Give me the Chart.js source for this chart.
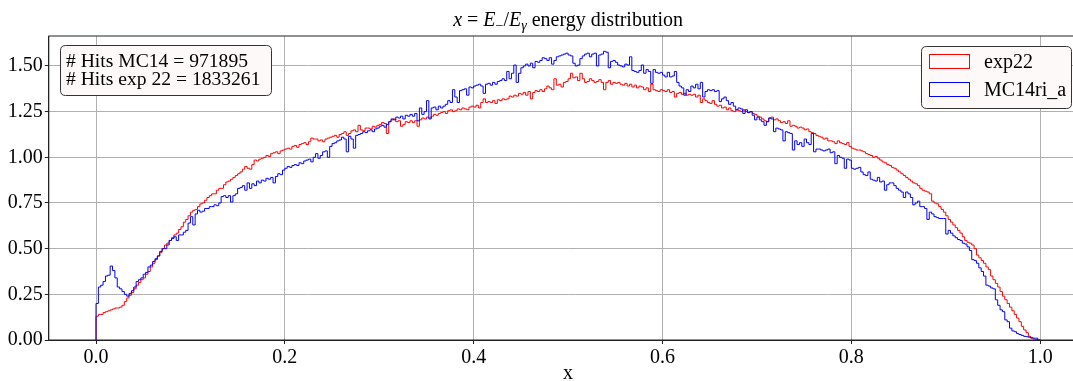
<!DOCTYPE html>
<html>
<head>
<meta charset="utf-8">
<script src="https://cdn.jsdelivr.net/npm/chart.js@4"></script>
<style>
  html, body { margin: 0; padding: 0; background: #fff; overflow: hidden; }
  #wrap { width: 1073px; height: 381px; overflow: hidden; }
</style>
</head>
<body>
<div id="wrap"><canvas id="c" width="1100" height="381"></canvas></div>
<script>
"use strict";

// histogram range, 400 bins of equal width
const binLow = 0.0;
const binHigh = 1.0;

const xTicks = [0.0, 0.2, 0.4, 0.6, 0.8, 1.0];
const yTicks = [0.0, 0.25, 0.5, 0.75, 1.0, 1.25, 1.5];

const seriesNames = ["exp22", "MC14ri_a"];
const statLines = ["# Hits MC14 = 971895", "# Hits exp 22 = 1833261"];

// exp22 (red), normalised counts per bin
const exp22 = [
  0.04,0.13,0.14,0.14,0.15,0.155,0.16,0.165,0.17,0.175,0.175,0.18,0.19,0.21,0.23,0.245,0.26,0.28,0.30,0.315,
  0.33,0.34,0.36,0.375,0.40,0.42,0.44,0.46,0.48,0.50,0.52,0.53,0.545,0.56,0.575,0.585,0.605,0.62,0.645,0.66,
  0.68,0.70,0.71,0.715,0.73,0.745,0.75,0.765,0.78,0.79,0.80,0.80,0.82,0.83,0.83,0.85,0.865,0.87,0.88,0.89,
  0.90,0.91,0.92,0.935,0.95,0.94,0.935,0.96,0.985,0.98,0.99,0.995,1.00,1.01,1.005,1.02,1.025,1.03,1.02,1.035,
  1.04,1.045,1.05,1.045,1.06,1.065,1.055,1.07,1.075,1.08,1.07,1.085,1.105,1.10,1.10,1.09,1.095,1.085,1.10,1.105,
  1.11,1.115,1.12,1.11,1.125,1.13,1.14,1.12,1.13,1.145,1.15,1.14,1.175,1.15,1.145,1.16,1.16,1.155,1.17,1.165,
  1.175,1.18,1.19,1.185,1.13,1.195,1.205,1.21,1.195,1.20,1.17,1.18,1.195,1.19,1.20,1.19,1.20,1.17,1.205,1.215,
  1.21,1.22,1.215,1.225,1.235,1.23,1.24,1.245,1.25,1.24,1.255,1.26,1.25,1.255,1.265,1.26,1.27,1.265,1.26,1.275,
  1.28,1.275,1.285,1.27,1.30,1.32,1.30,1.305,1.30,1.31,1.295,1.315,1.31,1.32,1.315,1.32,1.335,1.33,1.34,1.335,
  1.35,1.345,1.355,1.34,1.36,1.32,1.355,1.365,1.36,1.37,1.36,1.375,1.39,1.38,1.37,1.43,1.395,1.40,1.385,1.41,
  1.415,1.43,1.46,1.435,1.44,1.42,1.46,1.43,1.41,1.415,1.43,1.42,1.41,1.415,1.425,1.41,1.37,1.41,1.42,1.40,
  1.41,1.405,1.41,1.40,1.395,1.405,1.39,1.40,1.385,1.395,1.38,1.39,1.385,1.37,1.38,1.36,1.40,1.37,1.365,1.36,
  1.37,1.365,1.36,1.37,1.355,1.36,1.33,1.35,1.355,1.345,1.35,1.34,1.345,1.34,1.345,1.33,1.34,1.30,1.32,1.31,
  1.30,1.295,1.31,1.29,1.28,1.285,1.27,1.275,1.26,1.27,1.255,1.25,1.26,1.255,1.25,1.26,1.25,1.245,1.25,1.24,
  1.235,1.225,1.22,1.21,1.20,1.195,1.215,1.22,1.205,1.21,1.20,1.19,1.195,1.185,1.20,1.17,1.175,1.17,1.16,1.165,
  1.16,1.15,1.155,1.14,1.135,1.13,1.12,1.115,1.11,1.10,1.105,1.09,1.09,1.085,1.075,1.09,1.08,1.075,1.07,1.08,
  1.06,1.05,1.045,1.04,1.04,1.035,1.03,1.02,1.015,1.01,1.00,1.005,0.995,0.985,0.975,0.97,0.96,0.955,0.945,0.94,
  0.93,0.92,0.91,0.90,0.89,0.88,0.87,0.86,0.855,0.845,0.83,0.82,0.815,0.81,0.80,0.76,0.75,0.745,0.73,0.715,
  0.70,0.68,0.66,0.645,0.63,0.615,0.60,0.585,0.565,0.545,0.535,0.53,0.52,0.50,0.465,0.45,0.435,0.42,0.40,0.385,
  0.35,0.33,0.31,0.29,0.265,0.24,0.22,0.20,0.18,0.16,0.14,0.12,0.10,0.075,0.055,0.04,0.02,0.01,0.005,0.002
];

// MC14ri_a (blue)
const mc14 = [
  0.03,0.20,0.29,0.30,0.32,0.35,0.355,0.405,0.38,0.34,0.29,0.28,0.265,0.25,0.24,0.255,0.27,0.29,0.32,0.33,
  0.34,0.36,0.37,0.40,0.41,0.43,0.445,0.46,0.485,0.50,0.50,0.52,0.545,0.555,0.565,0.545,0.575,0.575,0.59,0.60,
  0.64,0.675,0.63,0.69,0.71,0.70,0.705,0.72,0.72,0.73,0.73,0.74,0.735,0.75,0.785,0.79,0.78,0.79,0.755,0.79,
  0.80,0.83,0.835,0.845,0.82,0.86,0.83,0.855,0.845,0.87,0.86,0.875,0.87,0.885,0.88,0.89,0.86,0.895,0.91,0.905,
  0.93,0.94,0.95,0.945,0.955,0.96,0.955,0.97,0.965,0.98,0.985,0.99,0.975,1.00,1.02,0.995,1.01,1.03,1.035,1.00,
  1.06,1.075,1.08,1.09,1.095,1.11,1.10,1.03,1.115,1.10,1.05,1.12,1.125,1.13,1.14,1.135,1.145,1.15,1.14,1.155,
  1.16,1.17,1.175,1.165,1.18,1.195,1.21,1.205,1.22,1.215,1.225,1.21,1.23,1.225,1.235,1.225,1.24,1.20,1.27,1.235,
  1.25,1.31,1.21,1.27,1.275,1.26,1.28,1.27,1.28,1.29,1.31,1.30,1.37,1.33,1.30,1.365,1.37,1.375,1.34,1.385,
  1.38,1.39,1.395,1.40,1.39,1.35,1.40,1.405,1.395,1.41,1.40,1.415,1.42,1.43,1.42,1.47,1.43,1.46,1.505,1.41,
  1.46,1.49,1.50,1.51,1.50,1.515,1.49,1.525,1.52,1.53,1.545,1.54,1.53,1.545,1.51,1.53,1.55,1.555,1.56,1.565,
  1.57,1.56,1.555,1.515,1.50,1.505,1.54,1.555,1.565,1.57,1.55,1.565,1.57,1.50,1.56,1.565,1.58,1.575,1.49,1.525,
  1.53,1.52,1.505,1.50,1.495,1.51,1.505,1.55,1.475,1.47,1.465,1.475,1.505,1.46,1.48,1.47,1.405,1.48,1.465,1.46,
  1.465,1.45,1.44,1.465,1.44,1.445,1.47,1.41,1.39,1.38,1.34,1.37,1.36,1.39,1.38,1.40,1.375,1.41,1.33,1.36,
  1.37,1.365,1.37,1.36,1.365,1.305,1.32,1.33,1.31,1.29,1.30,1.28,1.26,1.27,1.265,1.24,1.26,1.245,1.25,1.23,
  1.205,1.22,1.205,1.195,1.175,1.195,1.215,1.21,1.14,1.16,1.155,1.15,1.09,1.14,1.135,1.13,1.04,1.09,1.07,1.08,
  1.06,1.10,1.08,1.07,1.13,1.03,1.045,1.045,1.04,1.035,1.04,1.045,1.025,1.03,0.965,1.01,1.00,0.995,0.94,0.99,
  0.985,0.94,0.935,0.94,0.945,0.92,0.905,0.90,0.92,0.88,0.875,0.87,0.89,0.865,0.87,0.82,0.85,0.86,0.86,0.845,
  0.83,0.82,0.81,0.78,0.81,0.80,0.78,0.74,0.75,0.76,0.73,0.73,0.72,0.66,0.70,0.69,0.675,0.67,0.665,0.665,
  0.665,0.58,0.60,0.585,0.57,0.56,0.55,0.545,0.53,0.525,0.51,0.49,0.44,0.435,0.42,0.395,0.375,0.35,0.30,0.295,
  0.285,0.28,0.22,0.19,0.165,0.155,0.11,0.10,0.065,0.05,0.045,0.035,0.03,0.025,0.02,0.018,0.015,0.012,0.01,0.01
];

const serif = '"Liberation Serif", "DejaVu Serif", serif';
const colors = ["#ff0000", "#0000ff"];

// outline of a step histogram: up from 0 at the first edge, down to 0 at the last
function stepPoints(vals) {
  const w = (binHigh - binLow) / vals.length;
  const pts = [{ x: binLow, y: 0 }];
  vals.forEach((v, i) => pts.push({ x: binLow + i * w, y: v }));
  pts.push({ x: binHigh, y: 0 });
  return pts;
}

function drawPieces(ctx, pieces, cx, base) {
  let total = 0;
  pieces.forEach((p) => {
    ctx.font = p.font;
    p.w = ctx.measureText(p.t).width;
    total += p.w;
  });
  let x = cx - total / 2;
  ctx.textAlign = "left";
  ctx.textBaseline = "alphabetic";
  pieces.forEach((p) => {
    ctx.font = p.font;
    ctx.fillText(p.t, x, base + (p.dy || 0));
    x += p.w;
  });
}

function roundBox(ctx, x, y, w, h, r) {
  ctx.beginPath();
  ctx.moveTo(x + r, y);
  ctx.lineTo(x + w - r, y);
  ctx.quadraticCurveTo(x + w, y, x + w, y + r);
  ctx.lineTo(x + w, y + h - r);
  ctx.quadraticCurveTo(x + w, y + h, x + w - r, y + h);
  ctx.lineTo(x + r, y + h);
  ctx.quadraticCurveTo(x, y + h, x, y + h - r);
  ctx.lineTo(x, y + r);
  ctx.quadraticCurveTo(x, y, x + r, y);
  ctx.closePath();
}

const decor = {
  id: "decor",
  afterDraw(chart) {
    const ctx = chart.ctx;
    const a = chart.chartArea;
    ctx.save();

    // frame on all four sides
    ctx.strokeStyle = "#222";
    ctx.lineWidth = 1;
    ctx.strokeRect(a.left, a.top, a.right - a.left, a.bottom - a.top);

    const cx = (a.left + a.right) / 2;
    ctx.fillStyle = "#000";

    // title: x = E_-/E_gamma energy distribution
    const it = "italic 20px " + serif;
    const rm = "20px " + serif;
    const sub = "14px " + serif;
    const subIt = "italic 14px " + serif;
    drawPieces(ctx, [
      { t: "x", font: it },
      { t: " = ", font: rm },
      { t: "E", font: it },
      { t: "\u2212", font: sub, dy: 4 },
      { t: "/", font: rm },
      { t: "E", font: it },
      { t: "\u03b3", font: subIt, dy: 4 },
      { t: " energy distribution", font: rm },
    ], cx, 26);

    // x axis label
    drawPieces(ctx, [{ t: "x", font: "20px " + serif }], cx, 379);

    // stats box
    ctx.lineWidth = 1;
    roundBox(ctx, 60.5, 45.5, 211, 50, 5);
    ctx.fillStyle = "#fdf9f8";
    ctx.fill();
    ctx.strokeStyle = "#333";
    ctx.stroke();
    ctx.fillStyle = "#000";
    ctx.font = "19.6px " + serif;
    ctx.textAlign = "left";
    ctx.fillText(statLines[0], 66, 67);
    ctx.fillText(statLines[1], 66, 85);

    // legend
    ctx.font = "20px " + serif;
    roundBox(ctx, 921.5, 46.5, 150, 62, 5);
    ctx.fillStyle = "#fdf9f8";
    ctx.fill();
    ctx.strokeStyle = "#333";
    ctx.stroke();
    seriesNames.forEach((name, i) => {
      const y = 54.5 + i * 28;
      ctx.strokeStyle = colors[i];
      ctx.strokeRect(929.5, y, 40, 14);
      ctx.fillStyle = "#000";
      ctx.fillText(name, 984, y + 13);
    });

    ctx.restore();
  },
};

new Chart(document.getElementById("c").getContext("2d"), {
  type: "line",
  data: {
    datasets: [
      {
        label: seriesNames[0],
        data: stepPoints(exp22),
        borderColor: colors[0],
        borderWidth: 1,
        stepped: "after",
        pointRadius: 0,
        fill: false,
        order: 2,
      },
      {
        label: seriesNames[1],
        data: stepPoints(mc14),
        borderColor: colors[1],
        borderWidth: 1,
        stepped: "after",
        pointRadius: 0,
        fill: false,
        order: 1,
      },
    ],
  },
  options: {
    responsive: false,
    animation: false,
    layout: { padding: { top: 36, right: 12.6, left: 0, bottom: 0 } },
    plugins: {
      legend: { display: false },
      title: { display: false },
      tooltip: { enabled: false },
    },
    scales: {
      x: {
        type: "linear",
        min: -0.05,
        max: 1.05,
        afterBuildTicks: (s) => { s.ticks = xTicks.map((v) => ({ value: v })); },
        afterFit: (s) => { s.height = 41; },
        ticks: {
          font: { family: serif, size: 20 },
          color: "#000",
          padding: 2,
          maxRotation: 0,
          autoSkip: false,
          callback: (v) => Number(v).toFixed(1),
        },
        grid: { color: "#b0b0b0", lineWidth: 1, tickLength: 4, tickColor: "#222" },
        border: { color: "#222", width: 1 },
      },
      y: {
        min: 0,
        max: 1.664,
        afterBuildTicks: (s) => { s.ticks = yTicks.map((v) => ({ value: v })); },
        afterFit: (s) => { s.width = 48.8; },
        ticks: {
          font: { family: serif, size: 20 },
          color: "#000",
          padding: 2,
          autoSkip: false,
          callback: (v) => Number(v).toFixed(2),
        },
        grid: { color: "#b0b0b0", lineWidth: 1, tickLength: 4, tickColor: "#222" },
        border: { color: "#222", width: 1 },
      },
    },
  },
  plugins: [decor],
});
</script>
</body>
</html>
